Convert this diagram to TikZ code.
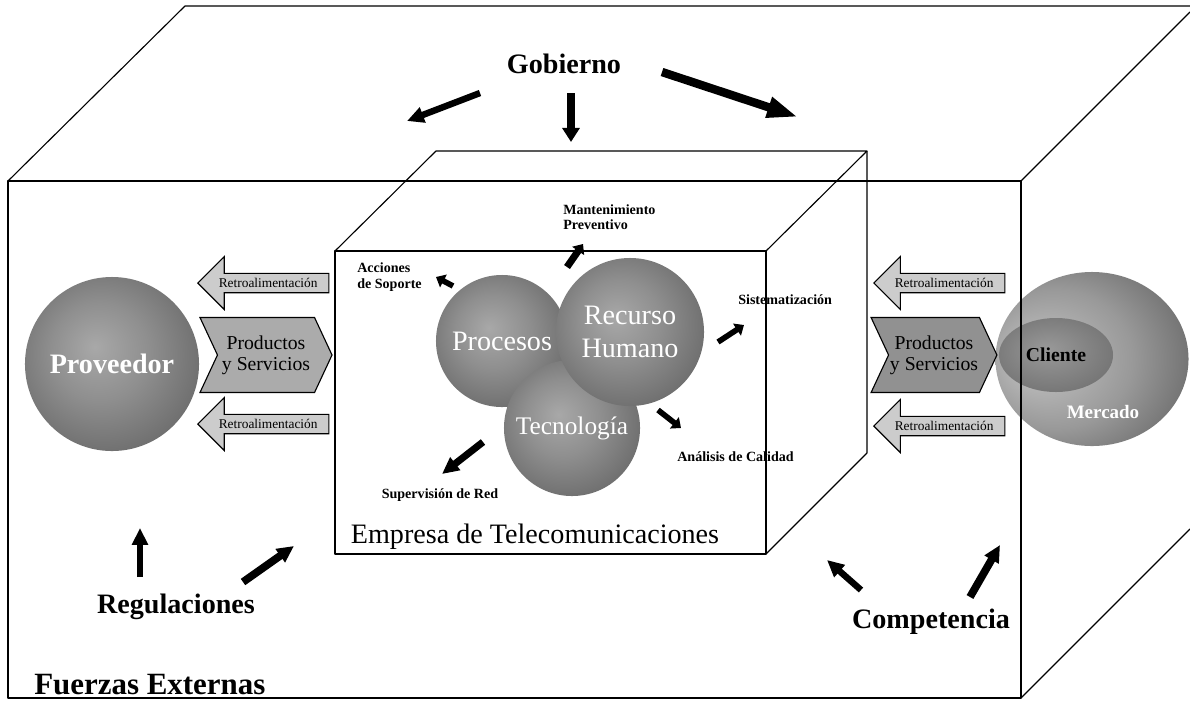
\documentclass[tikz,border=0pt]{standalone}
\usepackage{fontspec}
\setmainfont{Liberation Serif}
\usetikzlibrary{arrows.meta, shapes.arrows, shapes.symbols, shapes.geometric}

\pgfdeclareradialshading{greyball}{\pgfpoint{-5bp}{5bp}}{color(0bp)=(black!34); color(14bp)=(black!44); color(30bp)=(black!58); color(50bp)=(black!58)}
\pgfdeclareradialshading{marketball}{\pgfpoint{-16bp}{0bp}}{color(0bp)=(black!22); color(20bp)=(black!40); color(40bp)=(black!66); color(50bp)=(black!66)}
\pgfdeclareradialshading{clientball}{\pgfpoint{-4bp}{4bp}}{color(0bp)=(black!40); color(30bp)=(black!55); color(50bp)=(black!55)}

\begin{document}
\begin{tikzpicture}[x=0.025cm, y=-0.025cm,
    frame/.style={line width=0.8pt, line join=round},
    ball/.style={circle, shading=greyball, text=white, align=center, inner sep=0pt},
    blk/.style={line width=4.6pt, -{Triangle[length=12pt, width=11pt]}},
    sblk/.style={line width=4pt, -{Triangle[length=6pt, width=10pt]}},
    retro/.style={single arrow, shape border rotate=180, draw, fill=black!20, line width=0.8pt, minimum height=3.275cm, minimum width=1.325cm, single arrow head extend=0.29cm, inner sep=1pt, font=\fontsize{9.5}{11}\selectfont},
    prod/.style={signal, signal from=west, signal to=east, signal pointer angle=130, draw, line width=0.8pt, minimum height=1.875cm, align=center, inner sep=1pt, font=\fontsize{14}{15}\selectfont},
    big/.style={font=\fontsize{20}{22}\selectfont\bfseries, inner sep=0pt},
    small/.style={font=\fontsize{10}{11}\selectfont\bfseries, align=left, inner sep=0pt}
  ]
  \useasboundingbox (0,0) rectangle (1190,700);
  %% outside world
  \node[ball, minimum size=4.35cm, font=\fontsize{20}{22}\selectfont\bfseries] (prov) at (112,364) {Proveedor};
  \node[ellipse, shading=marketball, minimum width=4.825cm, minimum height=4.35cm] (merc) at (1092,359) {};
  \node[ellipse, shading=clientball, minimum width=2.85cm, minimum height=1.85cm, font=\fontsize{14}{16}\selectfont\bfseries] (cli) at (1056,355) {Cliente};
  \node[text=white, font=\fontsize{13.5}{15}\selectfont\bfseries, inner sep=0pt] (mertxt) at (1103,412) {Mercado};
  %% flows
  \node[retro, anchor=tip] (rl1) at (197,283) {Retroalimentación};
  \node[retro, anchor=tip] (rl2) at (197,424) {Retroalimentación};
  \node[retro, anchor=tip] (rr1) at (873,283) {Retroalimentación};
  \node[retro, anchor=tip] (rr2) at (873,426) {Retroalimentación};
  \node[prod, fill=black!33, minimum width=3.3cm] (pl) at (266,355) {Productos\\y Servicios};
  \node[prod, fill=black!43, minimum width=3.05cm] (pr) at (934,355) {Productos\\y Servicios};
  %% company core
  \node[ball, minimum size=3.3cm, font=\fontsize{20}{22}\selectfont] (proc) at (502,341) {Procesos};
  \node[ball, minimum size=3.4cm, font=\fontsize{18}{20}\selectfont] (tec) at (572,428) {\raisebox{-6pt}{Tecnología}};
  \node[ball, minimum size=3.7cm, font=\fontsize{20}{24}\selectfont] (rh) at (630,332) {Recurso\\Humano};
  %% labels
  \node[big] (gob) at (564,64) {Gobierno};
  \node[big] (reg) at (176,607) {Regulaciones};
  \node[big] (comp) at (931,622) {Competencia};
  \node[font=\fontsize{22}{24}\selectfont\bfseries, anchor=west, inner sep=0pt] (fext) at (34,685) {Fuerzas Externas};
  \node[font=\fontsize{20}{22}\selectfont, inner sep=0pt] (emp) at (535,537) {Empresa de Telecomunicaciones};
  \node[small, anchor=west] (mant) at (563,217) {Mantenimiento\\Preventivo};
  \node[small, anchor=west] (acc) at (357,277) {Acciones\\de Soporte};
  \node[small, anchor=west] (sist) at (738,300) {Sistematización};
  \node[small, anchor=west] (anal) at (677,457) {Análisis de Calidad};
  \node[small] (sup) at (440,495) {Supervisión de Red};
  %% arrow ends
  \coordinate (gl0) at (480,93);  \coordinate (gl1) at (407,121);
  \coordinate (gm0) at (571,93);  \coordinate (gm1) at (571,142);
  \coordinate (gr0) at (662,72);  \coordinate (gr1) at (798,117);
  \coordinate (ru0) at (140,577); \coordinate (ru1) at (140,528);
  \coordinate (rd0) at (243,582); \coordinate (rd1) at (294,546);
  \coordinate (cl0) at (861,590); \coordinate (cl1) at (827,560);
  \coordinate (cr0) at (970,597); \coordinate (cr1) at (1000,545);
  \coordinate (mt0) at (567,267); \coordinate (mt1) at (583,244);
  \coordinate (ac0) at (453,286); \coordinate (ac1) at (436,277);
  \coordinate (si0) at (718,342); \coordinate (si1) at (744,325);
  \coordinate (an0) at (658,410); \coordinate (an1) at (681,428);
  \coordinate (su0) at (483,442); \coordinate (su1) at (442,474);
  \draw[blk] (gl0) -- (gl1);
  \draw[blk, line width=5.5pt, -{Triangle[length=10pt, width=12pt]}] (gm0) -- (gm1);
  \draw[blk, line width=6pt, -{Triangle[length=22pt, width=14pt]}] (gr0) -- (gr1);
  \draw[blk] (ru0) -- (ru1);
  \draw[blk, line width=5.5pt] (rd0) -- (rd1);
  \draw[blk] (cl0) -- (cl1);
  \draw[blk, line width=5.5pt] (cr0) -- (cr1);
  \draw[sblk, line width=5pt] (mt0) -- (mt1);
  \draw[sblk] (ac0) -- (ac1);
  \draw[sblk] (si0) -- (si1);
  \draw[sblk] (an0) -- (an1);
  \draw[blk, line width=5pt] (su0) -- (su1);
  %% outer box
  \draw[frame] (8,181) rectangle (1021,698);
  \draw[frame] (8,181) -- (185,6) -- (1190,6);
  \draw[frame] (1021,181) -- (1190,12);
  \draw[frame] (1021,698) -- (1190,529);
  %% inner box
  \draw[frame] (335,251) rectangle (766,554);
  \draw[frame] (335,251) -- (436,151) -- (867,151) -- (766,251);
  \draw[frame] (867,151) -- (867,453) -- (766,554);
\end{tikzpicture}
\end{document}
